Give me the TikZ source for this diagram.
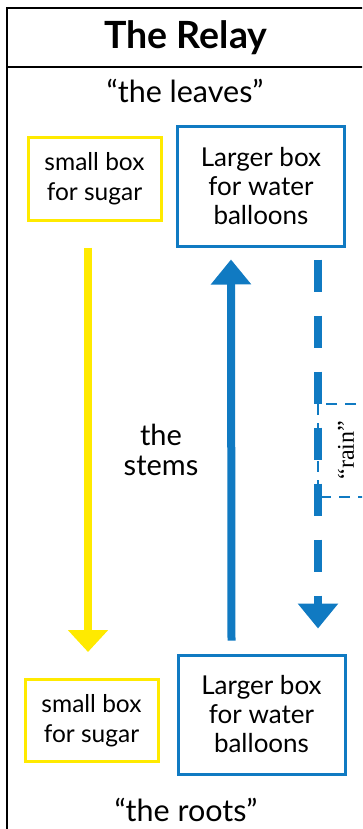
\documentclass[tikz,border=0pt]{standalone}
\usepackage{fontspec}
\setmainfont{Lato}
\newfontfamily\rainfont{Liberation Serif}
\usetikzlibrary{arrows.meta}
\definecolor{ryellow}{RGB}{255,234,0}
\definecolor{rblue}{RGB}{16,122,194}
\begin{document}
\begin{tikzpicture}[x=1pt,y=-1pt,
  lbl/.style={font=\fontsize{29}{30}\selectfont, align=center, inner sep=0pt},
  qlbl/.style={font=\fontsize{30.5}{32}\selectfont, inner sep=0pt},
  ybox/.style={draw=ryellow, line width=3pt, font=\fontsize{24.5}{30}\selectfont, align=center, inner sep=0pt, minimum width=133pt, minimum height=82pt},
  bbox/.style={draw=rblue, line width=3pt, font=\fontsize{26}{29}\selectfont, align=center, inner sep=0pt, minimum width=167pt, minimum height=119pt},
  yarrow/.style={draw=ryellow, line width=8pt, -{Triangle[width=39pt,length=22pt]}},
  barrow/.style={draw=rblue, line width=8pt, -{Triangle[width=39pt,length=25pt]}},
  frame/.style={line width=2pt, draw=black}]
\useasboundingbox (0,0) rectangle (362,829);
\clip (0,0) rectangle (362,829);
\draw[frame] (7,835) -- (7,8) -- (370,8);
\draw[frame] (7,67) -- (370,67);
\node[font=\bfseries\fontsize{37.5}{40}\selectfont, inner sep=0pt] (title) at (186,38) {The Relay};
\node[qlbl] (leaves) at (185,91) {“the leaves”};
\node[ybox] (ysTop) at (94.5,179) {small box\\for sugar};
\node[bbox] (bwTop) at (261,186.5) {Larger box\\for water\\balloons};
\node[ybox] (ysBot) at (91.5,720.5) {small box\\for sugar};
\node[bbox] (bwBot) at (261.5,714.5) {Larger box\\for water\\balloons};
\node[lbl] (stems) at (161,450) {the\\stems};
\node[qlbl] (roots) at (186,810) {“the roots”};
\draw[yarrow] ([xshift=-6.5pt,yshift=-26pt]ysTop.south) -- ([xshift=-3.5pt,yshift=26pt]ysBot.north);
\draw[barrow] ([xshift=55pt,yshift=13pt]bwBot.north west) -- ([xshift=55pt,yshift=-12pt]bwTop.south west);
\draw[barrow, dash pattern=on 32pt off 24pt] ([xshift=-28pt,yshift=-12pt]bwTop.south east) -- ([xshift=-28.5pt,yshift=25pt]bwBot.north east);
\coordinate (rainTL) at (318,404);
\coordinate (rainBR) at (375,497);
\draw[rblue, line width=2.5pt, dash pattern=on 11pt off 8pt] (375,404) -- (rainTL) -- (318,497) -- (375,497);
\node[rotate=90, font=\rainfont\fontsize{24}{28}\selectfont, inner sep=0pt] (rain) at (346,450) {“rain”};
\end{tikzpicture}
\end{document}
